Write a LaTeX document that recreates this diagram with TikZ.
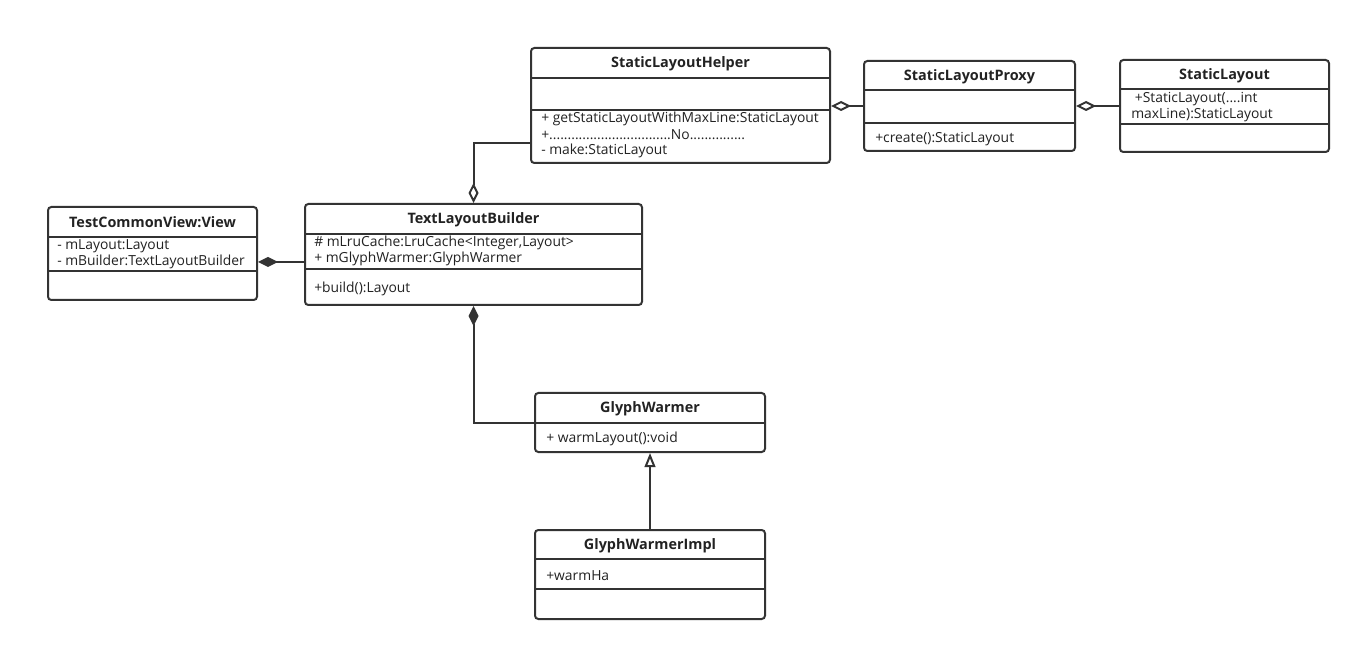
\documentclass[tikz,border=0pt]{standalone}
\usepackage{fontspec}
\setmainfont{Open Sans}
\usetikzlibrary{arrows.meta,fit}
\definecolor{umlline}{RGB}{51,51,51}
\definecolor{umltext}{RGB}{34,34,34}
\tikzset{
  cls/.style={draw=umlline,line width=1.5pt,rounded corners=2.5pt,fill=white,inner sep=0pt},
  sep/.style={draw=umlline,line width=1.5pt},
  cname/.style={font=\fontsize{10.8}{12}\selectfont\bfseries,text=umltext},
  member/.style={anchor=west,inner sep=0pt,font=\fontsize{10.4}{12}\selectfont,text=umltext},
  assoc/.style={draw=umlline,line width=1.5pt},
  agg/.style={assoc,-{Diamond[open,length=15pt,width=7.5pt]}},
  comp/.style={assoc,-{Diamond[length=15pt,width=7.5pt]}},
  realize/.style={assoc,-{Triangle[open,length=10.5pt,width=8pt]}},
}
\begin{document}
\begin{tikzpicture}[x=0.75pt,y=-0.75pt]
  \fill[white] (0,0) rectangle (1361,652);
  \useasboundingbox (0,0) rectangle (1361,652);
  % class boxes
  \node[cls,fit={(531,48) (830,163)}] (helper) {};
  \node[cls,fit={(864,61) (1075,151)}] (proxy) {};
  \node[cls,fit={(1120,60) (1329,152)}] (slayout) {};
  \node[cls,fit={(48,207) (257,300)}] (view) {};
  \node[cls,fit={(305,204) (642,305)}] (builder) {};
  \node[cls,fit={(535,393) (765,452)}] (warmer) {};
  \node[cls,fit={(535,530) (765,619)}] (warmerimpl) {};
  % compartments
  \draw[sep] (helper.west |- 0,78) -- (helper.east |- 0,78);
  \draw[sep] (helper.west |- 0,110) -- (helper.east |- 0,110);
  \draw[sep] (proxy.west |- 0,90) -- (proxy.east |- 0,90);
  \draw[sep] (proxy.west |- 0,123) -- (proxy.east |- 0,123);
  \draw[sep] (slayout.west |- 0,89) -- (slayout.east |- 0,89);
  \draw[sep] (slayout.west |- 0,124) -- (slayout.east |- 0,124);
  \draw[sep] (view.west |- 0,237) -- (view.east |- 0,237);
  \draw[sep] (view.west |- 0,271) -- (view.east |- 0,271);
  \draw[sep] (builder.west |- 0,234) -- (builder.east |- 0,234);
  \draw[sep] (builder.west |- 0,269) -- (builder.east |- 0,269);
  \draw[sep] (warmer.west |- 0,423) -- (warmer.east |- 0,423);
  \draw[sep] (warmerimpl.west |- 0,559) -- (warmerimpl.east |- 0,559);
  \draw[sep] (warmerimpl.west |- 0,589) -- (warmerimpl.east |- 0,589);
  % names
  \node[cname] at (680.5,64) {StaticLayoutHelper};
  \node[cname] at (969.5,77) {StaticLayoutProxy};
  \node[cname] at (1224.5,76) {StaticLayout};
  \node[cname] at (152.5,222) {TestCommonView:View};
  \node[cname] at (473.5,220) {TextLayoutBuilder};
  \node[cname] at (650,409) {GlyphWarmer};
  \node[cname] at (650,546) {GlyphWarmerImpl};
  % members
  \node[member] at (541,119) {+ getStaticLayoutWithMaxLine:StaticLayout};
  \node[member] at (541,135) {+.................................No...............};
  \node[member] at (541,151) {- make:StaticLayout};
  \node[member] at (875,139) {+create():StaticLayout};
  \node[member] at (1131,99) {\ +StaticLayout(....int};
  \node[member] at (1131,115) {maxLine):StaticLayout};
  \node[member] at (57,246) {- mLayout:Layout};
  \node[member] at (57,262) {- mBuilder:TextLayoutBuilder};
  \node[member] at (314,243) {\# mLruCache:LruCache<Integer,Layout>};
  \node[member] at (314,259) {+ mGlyphWarmer:GlyphWarmer};
  \node[member] at (314,289) {+build():Layout};
  \node[member] at (546,439) {+ warmLayout():void};
  \node[member] at (546,576) {+warmHa};
  % relations
  \draw[agg] (helper.west |- 0,143) -| (builder.north);
  \draw[agg] (proxy.west) -- (helper.east |- proxy.west);
  \draw[agg] (slayout.west) -- (proxy.east |- slayout.west);
  \draw[comp] (builder.west |- 0,262) -- (view.east |- 0,262);
  \draw[comp] (warmer.west |- 0,423) -| (builder.south);
  \draw[realize] (warmerimpl.north) -- (warmer.south);
\end{tikzpicture}
\end{document}
